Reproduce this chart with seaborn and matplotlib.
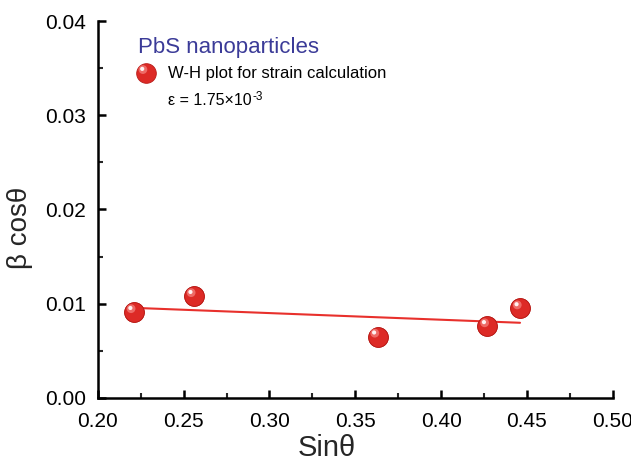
import numpy as np
import pandas as pd
import seaborn as sns
import matplotlib
matplotlib.use("Agg")
import matplotlib.pyplot as plt
from matplotlib.ticker import MultipleLocator
from matplotlib.transforms import offset_copy

sin_theta = [0.221, 0.256, 0.363, 0.427, 0.446]
beta_cos = [0.0091, 0.0108, 0.0065, 0.0076, 0.0095]
x_ticks = [0.20, 0.25, 0.30, 0.35, 0.40, 0.45, 0.50]
y_ticks = [0.00, 0.01, 0.02, 0.03, 0.04]

sns.set_theme(style="ticks")
plt.rcParams['font.family'] = ['Liberation Sans', 'DejaVu Sans']

df = pd.DataFrame({"x": sin_theta, "y": beta_cos})
fit = np.polyfit(df["x"], df["y"], 1)
xf = np.array([min(sin_theta), max(sin_theta)])
fit_df = pd.DataFrame({"x": xf, "y": np.polyval(fit, xf)})

fig = plt.figure(figsize=(6.31, 4.67), dpi=100)
ax = fig.add_axes([0.155, 0.148, 0.816, 0.807])

def ball(xs, ys, transform):
    ax.scatter(xs, ys, s=200, color="#dd2a26", edgecolor="#b81c18", linewidth=0.6,
               zorder=3, transform=transform, clip_on=False)
    t1 = offset_copy(transform, fig=fig, x=-2.0, y=2.5, units='points')
    ax.scatter(xs, ys, s=40, color="#ee6a66", edgecolor="none", zorder=4, transform=t1, clip_on=False)
    t2 = offset_copy(transform, fig=fig, x=-2.5, y=3.0, units='points')
    ax.scatter(xs, ys, s=9, color="#fff2f2", edgecolor="none", zorder=5, transform=t2, clip_on=False)

sns.lineplot(data=fit_df, x="x", y="y", ax=ax, color="#e8302c", lw=1.5, zorder=2)
sns.scatterplot(data=df, x="x", y="y", ax=ax, s=200, color="#dd2a26",
                edgecolor="#b81c18", linewidth=0.6, zorder=3)
ball(df["x"], df["y"], ax.transData)

ax.set_xlim(0.20, 0.50)
ax.set_ylim(0.00, 0.04)
ax.set_xticks(x_ticks)
ax.set_yticks(y_ticks)
ax.set_xticklabels([f"{v:.2f}" for v in x_ticks])
ax.set_yticklabels([f"{v:.2f}" for v in y_ticks])
ax.xaxis.set_minor_locator(MultipleLocator(0.025))
ax.yaxis.set_minor_locator(MultipleLocator(0.005))
ax.tick_params(which='major', direction='in', length=6, width=1.8, labelsize=15, colors='black')
ax.tick_params(axis='x', which='major', pad=10)
ax.tick_params(axis='y', which='major', pad=8.5)
ax.tick_params(which='minor', direction='in', length=3.5, width=1.5)
for s in ['left', 'bottom']:
    ax.spines[s].set_linewidth(1.8)
    ax.spines[s].set_color('black')
sns.despine(ax=ax)

ax.set_xlabel("Sinθ", fontsize=21, labelpad=2)
ax.xaxis.set_label_coords(0.445, -0.095)
ax.set_ylabel("β cosθ", fontsize=20, labelpad=10)
ax.yaxis.set_label_coords(-0.126, 0.452)

# legend-like annotation
ax.text(0.078, 0.931, "PbS nanoparticles", transform=ax.transAxes, fontsize=16,
        color="#3b3b98", va='center', ha='left')
ball([0.093], [0.862], ax.transAxes)
ax.text(0.136, 0.862, "W-H plot for strain calculation", transform=ax.transAxes,
        fontsize=12, color="black", va='center', ha='left')
eps = ax.text(0.136, 0.79, "ε = 1.75×10", transform=ax.transAxes,
              fontsize=11.5, color="black", va='center', ha='left')
ax.annotate("-3", xy=(1.0, 1.0), xycoords=eps, xytext=(0.5, 1.5), textcoords='offset points',
            fontsize=8.5, color="black", va='top', ha='left')

fig.savefig("out.png", dpi=100)
